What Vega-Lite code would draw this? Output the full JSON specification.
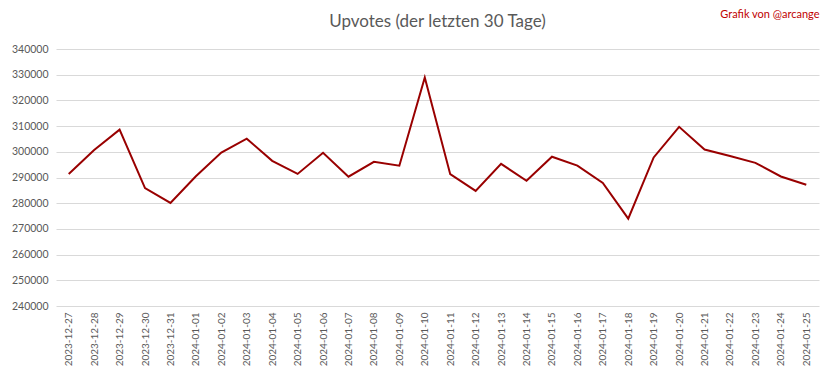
{
  "$schema": "https://vega.github.io/schema/vega-lite/v6.json",
  "autosize": "none",
  "width": 763,
  "height": 257,
  "padding": {"left": 56, "top": 49, "right": 13, "bottom": 73},
  "background": "white",
  "config": {
    "font": "Lato",
    "view": {"stroke": null}
  },
  "title": {
    "text": "Upvotes (der letzten 30 Tage)",
    "fontSize": 17,
    "fontWeight": "normal",
    "color": "#595959",
    "anchor": "middle",
    "frame": "group",
    "offset": -23
  },
  "data": {
    "values": [
      {"date": "2023-12-27", "upvotes": 291400},
      {"date": "2023-12-28", "upvotes": 300700},
      {"date": "2023-12-29", "upvotes": 308600},
      {"date": "2023-12-30", "upvotes": 285900},
      {"date": "2023-12-31", "upvotes": 280100},
      {"date": "2024-01-01", "upvotes": 290500},
      {"date": "2024-01-02", "upvotes": 299700},
      {"date": "2024-01-03", "upvotes": 305100},
      {"date": "2024-01-04", "upvotes": 296500},
      {"date": "2024-01-05", "upvotes": 291400},
      {"date": "2024-01-06", "upvotes": 299600},
      {"date": "2024-01-07", "upvotes": 290300},
      {"date": "2024-01-08", "upvotes": 296100},
      {"date": "2024-01-09", "upvotes": 294600},
      {"date": "2024-01-10", "upvotes": 328900},
      {"date": "2024-01-11", "upvotes": 291300},
      {"date": "2024-01-12", "upvotes": 284800},
      {"date": "2024-01-13", "upvotes": 295300},
      {"date": "2024-01-14", "upvotes": 288700},
      {"date": "2024-01-15", "upvotes": 298100},
      {"date": "2024-01-16", "upvotes": 294600},
      {"date": "2024-01-17", "upvotes": 287900},
      {"date": "2024-01-18", "upvotes": 274000},
      {"date": "2024-01-19", "upvotes": 297800},
      {"date": "2024-01-20", "upvotes": 309700},
      {"date": "2024-01-21", "upvotes": 300900},
      {"date": "2024-01-22", "upvotes": 298400},
      {"date": "2024-01-23", "upvotes": 295700},
      {"date": "2024-01-24", "upvotes": 290400},
      {"date": "2024-01-25", "upvotes": 287200}
    ]
  },
  "resolve": {"axis": {"x": "independent"}},
  "layer": [
    {
      "mark": {"type": "line", "color": "#990000", "strokeWidth": 2},
      "encoding": {
        "x": {
          "field": "date",
          "type": "ordinal",
          "sort": null,
          "scale": {"padding": 0.5},
          "axis": {
            "orient": "bottom",
            "title": null,
            "labelAngle": 270,
            "labelFontSize": 10,
            "labelColor": "#595959",
            "labelPadding": 6,
            "labelOverlap": false,
            "ticks": false,
            "domain": false,
            "grid": false
          }
        },
        "y": {
          "field": "upvotes",
          "type": "quantitative",
          "scale": {"domain": [240000, 340000], "nice": false, "zero": false},
          "axis": {
            "title": null,
            "values": [240000, 250000, 260000, 270000, 280000, 290000, 300000, 310000, 320000, 330000, 340000],
            "tickCount": 11,
            "format": "d",
            "labelFontSize": 10.5,
            "labelColor": "#595959",
            "labelPadding": 8,
            "labelOverlap": false,
            "labelFlush": false,
            "ticks": false,
            "domain": false,
            "gridColor": "#d9d9d9",
            "gridWidth": 1
          }
        }
      }
    },
    {
      "mark": {"type": "line", "opacity": 0},
      "encoding": {
        "x": {
          "field": "date",
          "type": "ordinal",
          "sort": null,
          "axis": {
            "orient": "top",
            "title": "Grafik von @arcange",
            "titleAnchor": "end",
            "titleColor": "#c00000",
            "titleFontSize": 11,
            "titleFontWeight": "normal",
            "titlePadding": 30,
            "labels": false,
            "ticks": false,
            "domain": false,
            "grid": false
          }
        },
        "y": {"field": "upvotes", "type": "quantitative"}
      }
    }
  ]
}
